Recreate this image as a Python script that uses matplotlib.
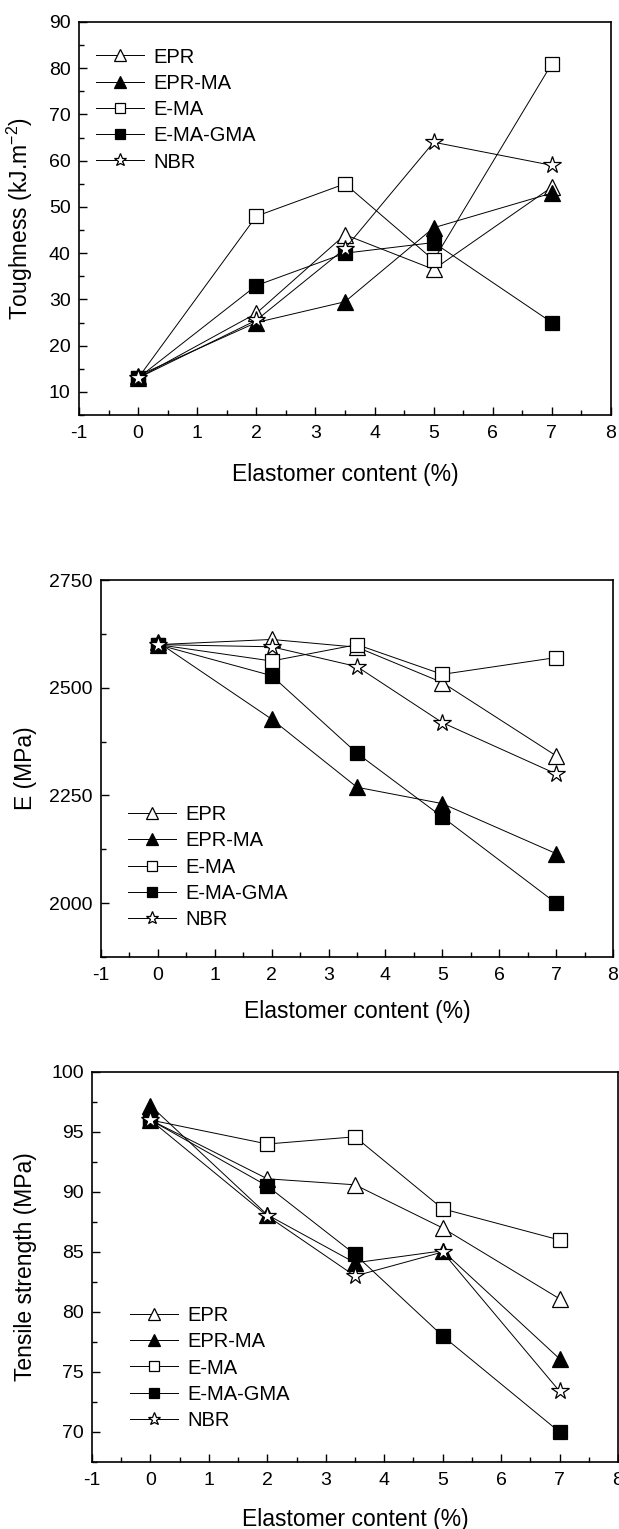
import numpy as np
import matplotlib
matplotlib.use('Agg')
import matplotlib.pyplot as plt
from matplotlib.ticker import MultipleLocator

plt.rcParams['font.family'] = ['Liberation Sans', 'DejaVu Sans']
plt.rcParams['mathtext.fontset'] = 'custom'
plt.rcParams['mathtext.rm'] = 'Liberation Sans'
plt.rcParams['mathtext.it'] = 'Liberation Sans:italic'
plt.rcParams['axes.unicode_minus'] = False

# data
content = [0, 2, 3.5, 5, 7]
series = ['EPR', 'EPR-MA', 'E-MA', 'E-MA-GMA', 'NBR']

tough_epr = [13, 27, 44, 36.5, 54.3]
tough_eprma = [13.5, 25, 29.5, 45.5, 53]
tough_ema = [13, 48, 55, 38.5, 81]
tough_emagma = [13, 33, 40, 42.3, 25]
tough_nbr = [13, 25.5, 41, 64, 59]

e_epr = [2600, 2612, 2594, 2512, 2342]
e_eprma = [2606, 2427, 2269, 2231, 2115]
e_ema = [2600, 2562, 2600, 2531, 2570]
e_emagma = [2600, 2528, 2348, 2200, 2000]
e_nbr = [2600, 2595, 2549, 2419, 2300]

ts_epr = [96, 91.1, 90.6, 87, 81.1]
ts_eprma = [97.2, 88.1, 84.1, 85.1, 76.1]
ts_ema = [96, 94, 94.6, 88.6, 86]
ts_emagma = [96, 90.5, 84.8, 78, 70]
ts_nbr = [96, 88, 83, 85, 73.4]

# marker styles: (marker, facecolor, size)
styles = [('^', 'white', 11), ('^', 'black', 11), ('s', 'white', 10),
          ('s', 'black', 10), ('*', 'white', 13)]

W, H = 619, 1529
fig = plt.figure(figsize=(W / 100, H / 100), dpi=100)


def make_panel(rect, data, ylim, ymajor, ylabel, ylab_x, xlab_y, leg_loc, leg_anchor):
    l, t, r, b = rect
    ax = fig.add_axes([l / W, 1 - b / H, (r - l) / W, (b - t) / H])
    for (m, fc, ms), name, vals in zip(styles, series, data):
        ax.plot(content, vals, color='black', lw=0.7, marker=m, ms=ms,
                mfc=fc, mec='black', mew=0.9, label=name)
    ax.set_xlim(-1, 8)
    ax.set_ylim(*ylim)
    ax.xaxis.set_major_locator(MultipleLocator(1))
    ax.xaxis.set_minor_locator(MultipleLocator(0.5))
    ax.yaxis.set_major_locator(MultipleLocator(ymajor))
    ax.yaxis.set_minor_locator(MultipleLocator(ymajor / 2))
    ax.tick_params(which='both', direction='in', top=False, right=False,
                   labelsize=14, width=1)
    ax.tick_params(which='major', length=6)
    ax.tick_params(which='minor', length=3.5)
    ax.tick_params(axis='x', pad=7)
    ax.tick_params(axis='y', pad=6)
    for s in ax.spines.values():
        s.set_linewidth(1.2)
    ax.set_xlabel('Elastomer content (%)', fontsize=16.5)
    ax.set_ylabel(ylabel, fontsize=16.5)
    ax.xaxis.set_label_coords(0.5, xlab_y)
    ax.yaxis.set_label_coords(ylab_x, 0.5)
    ax.legend(loc=leg_loc, bbox_to_anchor=leg_anchor, frameon=False,
              fontsize=14.5, borderaxespad=0, borderpad=0, handlelength=2.4,
              handletextpad=0.45, labelspacing=0.36, markerscale=0.75)
    return ax


make_panel((79, 22, 611, 415),
           [tough_epr, tough_eprma, tough_ema, tough_emagma, tough_nbr],
           (5, 90), 10, 'Toughness (kJ.m$^{-2}$)', -0.083, -0.122,
           'upper left', (0.032, 0.935))

make_panel((101, 580, 613, 957),
           [e_epr, e_eprma, e_ema, e_emagma, e_nbr],
           (1875, 2750), 250, 'E (MPa)', -0.125, -0.114,
           'lower left', (0.053, 0.074))

make_panel((92, 1072, 618, 1462),
           [ts_epr, ts_eprma, ts_ema, ts_emagma, ts_nbr],
           (67.5, 100), 5, 'Tensile strength (MPa)', -0.105, -0.118,
           'lower left', (0.072, 0.082))

fig.savefig('out.png', dpi=100)
